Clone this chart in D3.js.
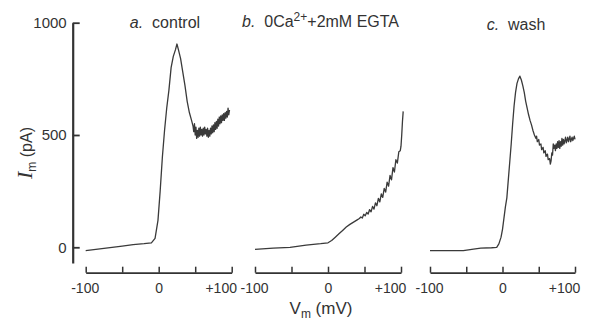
<!DOCTYPE html>
<html>
<head>
<meta charset="utf-8">
<script src="https://cdn.jsdelivr.net/npm/d3@7"></script>
<style>
  body { margin: 0; background: #fff; }
  text { font-family: "Liberation Sans", Arial, sans-serif; fill: #333; }
</style>
</head>
<body>
<div id="chart"></div>
<script>
// membrane current traces (pA) vs membrane potential (mV)
const vA = [-100,-75,-50,-35,-20,-10,-5,-1,2,5,8,11,14,17,20,23,25,27,30,33,36,39,42,45,
  47,48,49,50,51,52,53,54,55,56,57,58,59,60,61,62,63,64,65,66,67,68,69,70,71,72,73,74,75,76,77,78,79,80,
  81,82,83,84,85,86,87,88,89,90,91,92,93,94,95,96,97];
const iA = [-15,-5,5,12,16,20,40,120,250,400,520,620,700,800,850,880,905,880,840,780,720,650,600,565,
  540,515,550,500,535,485,520,490,530,495,535,500,525,495,530,500,535,505,525,495,530,490,520,495,530,505,540,510,545,515,555,525,560,530,
  570,540,580,550,585,555,590,565,595,565,600,575,605,580,620,590,612];

const vB = [-100,-75,-52,-30,-10,0,5,10,15,20,25,30,35,40,43,45,47,49,51,53,55,57,59,61,63,65,67,69,71,73,75,
  77,79,81,83,85,87,89,91,93,95,97,99,100,101,102,103];
const iB = [-9,-4,0,10,16,20,30,45,60,75,90,102,112,122,128,135,130,147,140,155,148,168,158,182,170,198,185,218,202,238,222,
  262,246,290,272,320,300,355,335,390,375,425,430,450,500,560,605];

const vC = [-100,-75,-54,-40,-30,-15,-8,-5,-2,0,2,4,6,8,10,12,14,16,18,20,22,24,26,28,30,32,34,36,38,40,
  42,44,46,47,48,50,51,53,54,56,57,59,60,62,63,65,66,67,68,69,70,71,72,73,74,75,76,77,78,79,80,
  81,82,83,84,85,87,88,90,91,93,94,96,97,99,100];
const iC = [-15,-15,-15,-8,-4,-2,0,15,45,80,130,180,220,300,380,460,550,630,690,730,750,762,745,720,690,650,620,590,565,545,
  520,500,485,495,470,480,455,460,435,445,420,430,405,415,390,395,370,385,420,410,460,440,455,430,460,440,470,445,475,440,470,
  450,485,455,480,460,490,465,490,470,495,470,490,475,495,480];

const titles = ["control", "wash"];
const xTicks = [-100, -50, 0, 50, 100];
const xLabels = [-100, 0, 100];
const yTicks = [0, 500, 1000];

const W = 591, H = 322;
const svg = d3.select("#chart").append("svg")
  .attr("width", W).attr("height", H);

const y = d3.scaleLinear().domain([-70, 1000]).range([263, 22.7]);

// y axis, ticks point inward
const yAxis = svg.append("g")
  .attr("transform", "translate(72.7,0)")
  .call(d3.axisLeft(y).tickValues(yTicks).tickFormat(d3.format("d"))
    .tickSizeInner(-7).tickSizeOuter(0).tickPadding(6));
yAxis.select(".domain").attr("stroke", "#333").attr("stroke-width", 2.2);
yAxis.selectAll(".tick line").attr("stroke", "#333").attr("stroke-width", 1.8);
yAxis.selectAll(".tick text").style("font-size", "15px").attr("fill", "#333")
  .style("font-family", "Liberation Sans, Arial, sans-serif");

// y label
const yl = svg.append("text")
  .attr("transform", "translate(32,153) rotate(-90)")
  .attr("text-anchor", "middle");
yl.append("tspan").text("I").style("font-family", "Liberation Serif, serif")
  .style("font-style", "italic").style("font-size", "22px");
yl.append("tspan").text("m").style("font-size", "12px").attr("dy", 4);
yl.append("tspan").text(" (pA)").style("font-size", "16px").attr("dy", -4);

const panels = [
  {v: vA, i: iA, x0: 85.7, x1: 231.7},
  {v: vB, i: iB, x0: 255, x1: 401},
  {v: vC, i: iC, x0: 430, x1: 575}
];

panels.forEach(function(p, k){
  const x = d3.scaleLinear().domain([-100, 100]).range([p.x0, p.x1]);
  const g = svg.append("g").attr("transform", "translate(0,272.7)")
    .call(d3.axisBottom(x).tickValues(xTicks).tickSizeInner(-6).tickSizeOuter(0).tickPadding(10)
      .tickFormat(function(d){ return xLabels.indexOf(d) < 0 ? "" : (d > 0 ? "+" + d : d); }));
  g.select(".domain").attr("stroke", "#333").attr("stroke-width", 1.8);
  g.selectAll(".tick line").attr("stroke", "#333").attr("stroke-width", 1.5);
  g.selectAll(".tick text").style("font-size", "14px").attr("fill", "#333")
    .style("font-family", "Liberation Sans, Arial, sans-serif")
    .attr("dx", function(d){ return d === 100 ? -11 : (d === -100 ? -1 : 0); });

  const pts = p.v.map(function(d, j){ return [d, p.i[j]]; });
  svg.append("path")
    .datum(pts)
    .attr("fill", "none")
    .attr("stroke", "#3a3a3a")
    .attr("stroke-width", 1.3)
    .attr("stroke-linejoin", "round")
    .attr("d", d3.line()
      .x(function(d){ return x(d[0]); })
      .y(function(d){ return y(d[1]); }));
});

// panel titles
const tA = svg.append("text").attr("x", 165).attr("y", 28).attr("text-anchor", "middle")
  .style("font-size", "16px").attr("fill", "#444");
tA.append("tspan").text("a.").style("font-style", "italic");
tA.append("tspan").text("\u00a0 " + titles[0]);

const tB = svg.append("text").attr("x", 242).attr("y", 27)
  .style("font-size", "16px").attr("fill", "#444");
tB.append("tspan").text("b.").style("font-style", "italic");
tB.append("tspan").text("\u00a0 0Ca");
tB.append("tspan").text("2+").style("font-size", "12px").attr("dy", -6);
tB.append("tspan").text("+2mM EGTA").attr("dy", 6);

const tC = svg.append("text").attr("x", 516).attr("y", 30).attr("text-anchor", "middle")
  .style("font-size", "16px").attr("fill", "#444");
tC.append("tspan").text("c.").style("font-style", "italic");
tC.append("tspan").text("\u00a0 " + titles[1]);

// x label
const xl = svg.append("text").attr("x", 321).attr("y", 314).attr("text-anchor", "middle")
  .style("font-size", "17px");
xl.append("tspan").text("V");
xl.append("tspan").text("m").style("font-size", "12px").attr("dy", 4);
xl.append("tspan").text("\u00a0(mV)").attr("dy", -4);
</script>
</body>
</html>
